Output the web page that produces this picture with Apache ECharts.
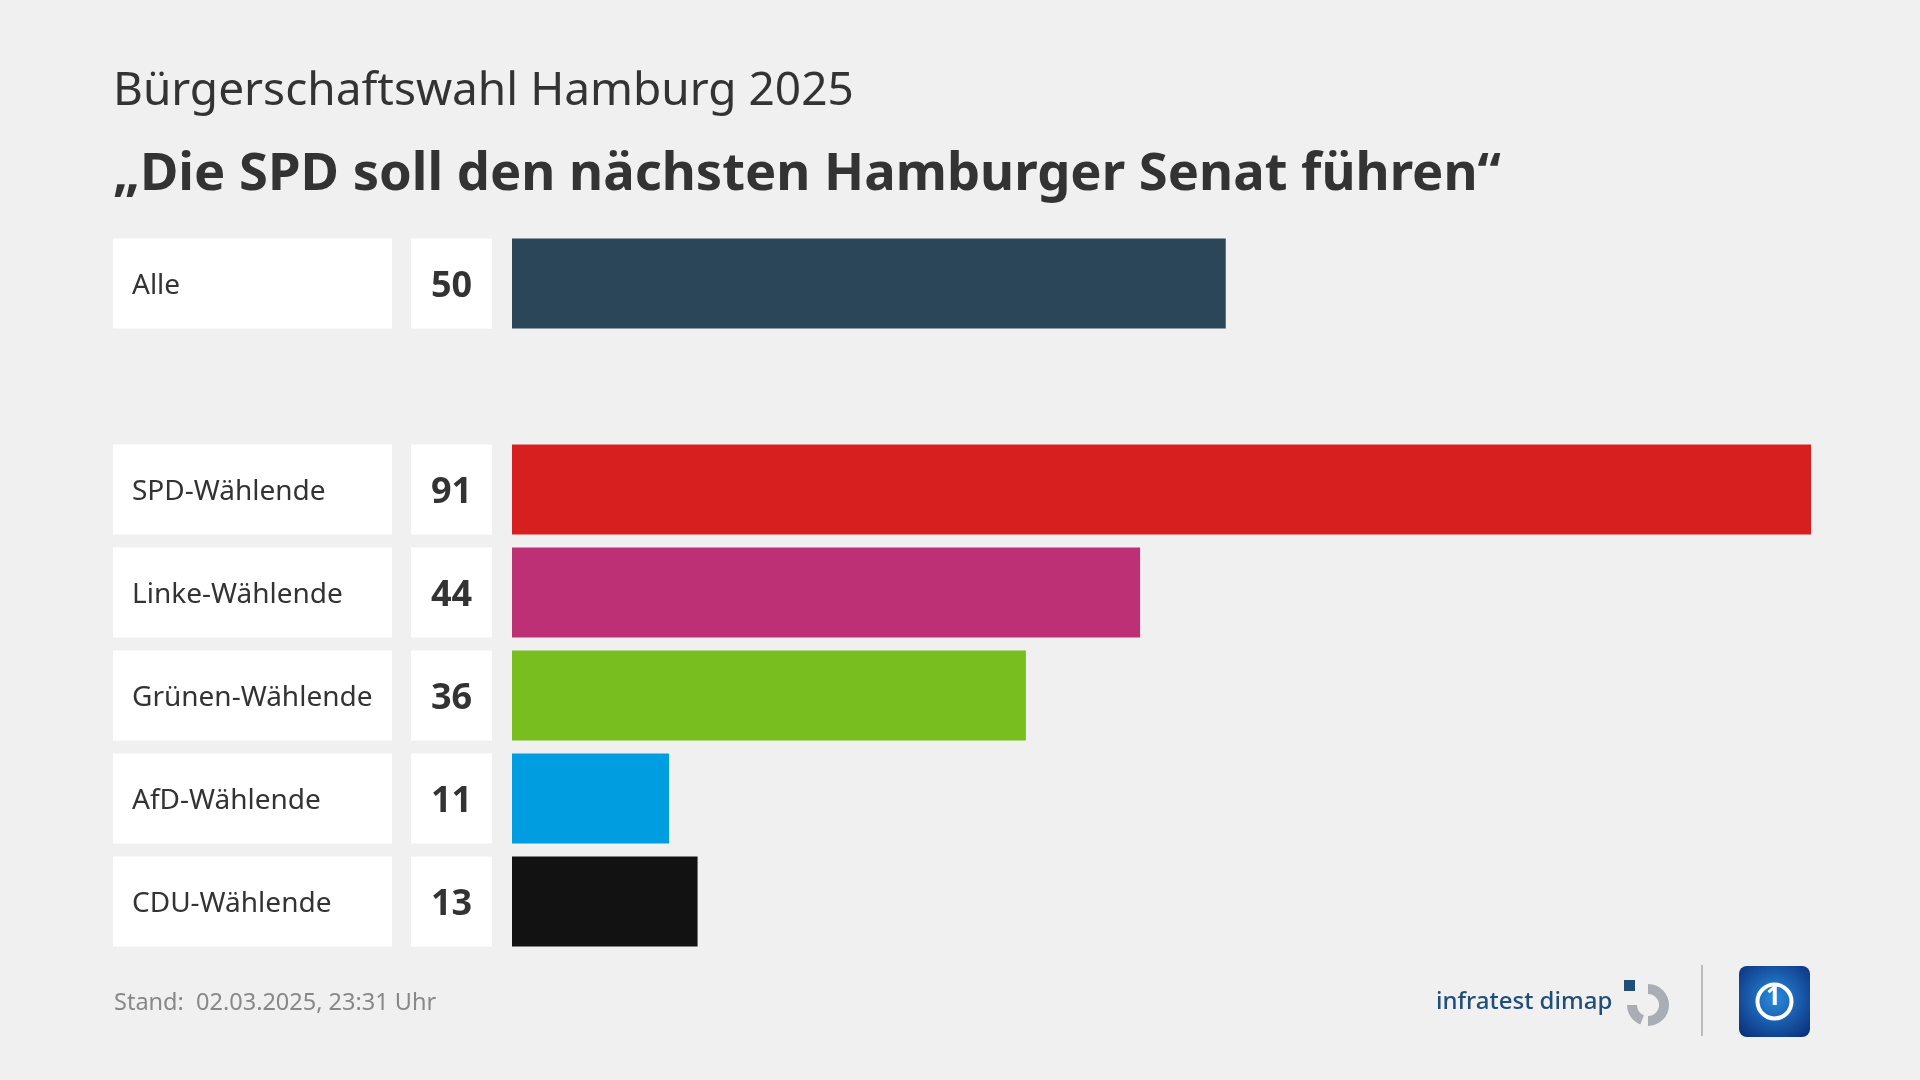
<!DOCTYPE html>
<html>
<head>
<meta charset="utf-8">
<script src="https://cdn.jsdelivr.net/npm/echarts@6/dist/echarts.min.js"></script>
<style>
html,body{margin:0;padding:0;background:#f0f0f0;}
#chart{width:1920px;height:1080px;}
</style>
</head>
<body>
<div id="chart"></div>
<script>
const supTitle = 'Bürgerschaftswahl Hamburg 2025';
const mainTitle = '„Die SPD soll den nächsten Hamburger Senat führen“';
const footerText = 'Stand:  02.03.2025, 23:31 Uhr';
const categories = ['Alle', '', 'SPD-Wählende', 'Linke-Wählende', 'Grünen-Wählende', 'AfD-Wählende', 'CDU-Wählende'];
const values = [50, null, 91, 44, 36, 11, 13];
const barColors = ['#2a4658', null, '#d71f1f', '#bd3075', '#78be1e', '#009ee0', '#121212'];

const FONT = '"Noto Sans", "Open Sans", sans-serif';
const chart = echarts.init(document.getElementById('chart'), null, {renderer: 'canvas'});

const barData = values.map((v, i) => v == null ? null : {value: v, itemStyle: {color: barColors[i]}});
const boxData = [];
categories.forEach((c, i) => { if (c) boxData.push({value: [0, i, values[i]], name: c}); });

const BAR_H = 90;

chart.setOption({
  backgroundColor: '#f0f0f0',
  animation: false,
  title: [
    {text: supTitle, left: 108, top: 57, textStyle: {fontFamily: FONT, fontWeight: 'normal', fontSize: 46, lineHeight: 60, color: '#333333'}},
    {text: mainTitle, left: 108, top: 135, textStyle: {fontFamily: FONT, fontWeight: 'bold', fontSize: 52.5, lineHeight: 70, color: '#333333'}},
    {text: footerText, left: 109, top: 983, textStyle: {fontFamily: FONT, fontWeight: 'normal', fontSize: 23.5, lineHeight: 30, color: '#888888'}}
  ],
  grid: {left: 512, right: 109, top: 232, height: 721, containLabel: false},
  xAxis: {type: 'value', min: 0, max: 91, show: false},
  yAxis: {type: 'category', data: categories, inverse: true, show: false},
  series: [
    {
      type: 'bar',
      data: barData,
      barWidth: BAR_H,
      silent: true
    },
    {
      type: 'custom',
      clip: false,
      silent: true,
      data: boxData,
      renderItem: function (params, api) {
        const idx = api.value(1);
        const p = api.coord([0, idx]);
        const x0 = p[0], yc = p[1];
        const h = BAR_H;
        const item = boxData[params.dataIndex];
        return {
          type: 'group',
          children: [
            {type: 'rect', shape: {x: x0 - 399, y: yc - h / 2, width: 279, height: h}, style: {fill: '#ffffff'}},
            {type: 'text', style: {text: item.name, x: x0 - 380, y: yc + 3, align: 'left', verticalAlign: 'middle', fill: '#333333', font: 'normal 28px ' + FONT}},
            {type: 'rect', shape: {x: x0 - 101, y: yc - h / 2, width: 81, height: h}, style: {fill: '#ffffff'}},
            {type: 'text', style: {text: String(api.value(2)), x: x0 - 60.5, y: yc + 3, align: 'center', verticalAlign: 'middle', fill: '#333333', font: 'bold 36px ' + FONT}}
          ]
        };
      }
    }
  ],
  graphic: [
    {type: 'text', left: 1436, top: 990, style: {text: 'infratest dimap', fill: '#1f4e79', font: '500 24px ' + FONT}},
    {type: 'group', left: 1624, top: 980, children: [
      {type: 'rect', shape: {x: 0, y: 0, width: 11, height: 11}, style: {fill: '#1f4e79'}},
      {type: 'arc', shape: {cx: 24, cy: 25, r: 16, startAngle: -Math.PI * 0.5, endAngle: Math.PI * 0.5, clockwise: true}, style: {stroke: '#a8aeb4', lineWidth: 10, fill: null}},
      {type: 'arc', shape: {cx: 24, cy: 25, r: 16, startAngle: Math.PI * 0.62, endAngle: Math.PI * 1.0, clockwise: true}, style: {stroke: '#a8aeb4', lineWidth: 10, fill: null}}
    ]},
    {type: 'rect', shape: {x: 1701, y: 965, width: 2, height: 71}, style: {fill: '#bbbbbb'}},
    {type: 'rect', shape: {x: 1739, y: 966, width: 71, height: 71, r: 8}, style: {fill: new echarts.graphic.RadialGradient(0.5, 0.45, 0.7, [{offset: 0, color: '#2a8be0'}, {offset: 1, color: '#0a2f7a'}])}},
    {type: 'circle', shape: {cx: 1774.5, cy: 1001.5, r: 17}, style: {fill: null, stroke: '#ffffff', lineWidth: 4}},
    {type: 'text', left: 1766, top: 985, style: {text: '1', fill: '#ffffff', font: 'bold 26px ' + FONT}}
  ]
});
</script>
</body>
</html>
